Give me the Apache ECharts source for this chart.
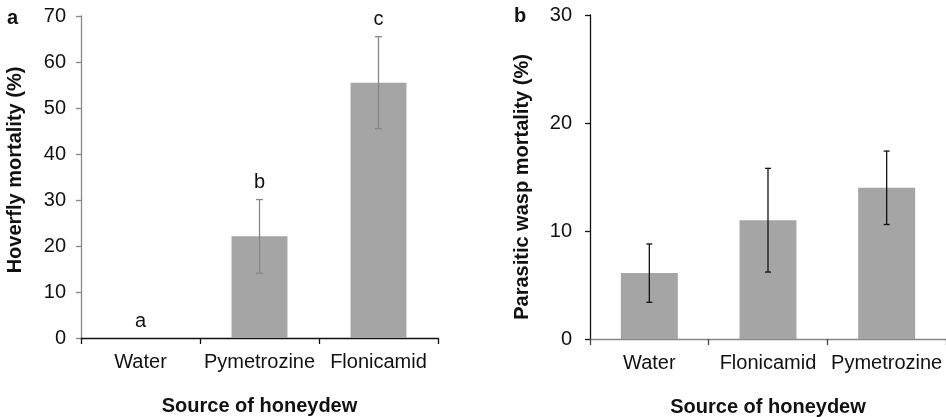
<!DOCTYPE html>
<html>
<head>
<meta charset="utf-8">
<style>
  html, body { margin: 0; padding: 0; background: #fff; }
  #chart { width: 946px; height: 417px; }
</style>
<script src="https://cdn.jsdelivr.net/npm/echarts@6/dist/echarts.min.js"></script>
</head>
<body>
<div id="chart"></div>
<script>
// Panel a: hoverfly mortality by honeydew source
const hoverflyCategories = ['Water', 'Pymetrozine', 'Flonicamid'];
const hoverflyMean = [0, 22.1, 55.5];
const hoverflyError = [0, 8.0, 10.0];
const hoverflyLetters = ['a', 'b', 'c'];
const hoverflyTicks = [0, 10, 20, 30, 40, 50, 60, 70];

// Panel b: parasitic wasp mortality by honeydew source
const waspCategories = ['Water', 'Flonicamid', 'Pymetrozine'];
const waspMean = [6.1, 11.0, 14.0];
const waspError = [2.7, 4.8, 3.4];
const waspTicks = [0, 10, 20, 30];

const FONT = "'Liberation Sans', Arial, sans-serif";
const BAR = '#a5a5a5';
const GREY = '#878787';

// Error bars (and optional significance letters) drawn through the axes
function errorBarSeries(xIdx, yIdx, means, errs, letters, color, capHalf) {
  return {
    type: 'custom',
    xAxisIndex: xIdx,
    yAxisIndex: yIdx,
    z: 5,
    data: means.map((m, i) => [i, m, errs[i]]),
    renderItem(params, api) {
      const i = api.value(0), m = api.value(1), e = api.value(2);
      const letter = letters ? letters[i] : '';
      const hi = api.coord([i, m + e]);
      const lo = api.coord([i, m - e]);
      const children = [];
      const st = { stroke: color, lineWidth: 1.3 };
      if (e > 0) {
        children.push(
          { type: 'line', shape: { x1: hi[0], y1: hi[1], x2: lo[0], y2: lo[1] }, style: st },
          { type: 'line', shape: { x1: hi[0] - capHalf, y1: hi[1], x2: hi[0] + capHalf, y2: hi[1] }, style: st },
          { type: 'line', shape: { x1: lo[0] - capHalf, y1: lo[1], x2: lo[0] + capHalf, y2: lo[1] }, style: st }
        );
      }
      if (letter) {
        children.push({
          type: 'text',
          x: hi[0], y: hi[1] - 17,
          style: { text: letter, fill: '#111', font: '20px ' + FONT, align: 'center', verticalAlign: 'middle' }
        });
      }
      return { type: 'group', children };
    }
  };
}

function catAxis(gridIndex, cats, lineColor, tickColor) {
  return {
    type: 'category',
    gridIndex,
    data: cats,
    name: 'Source of honeydew',
    nameLocation: 'middle',
    nameGap: 58,
    nameTextStyle: { fontFamily: FONT, fontSize: 20, fontWeight: 'bold', color: '#111' },
    axisLine: { show: true, lineStyle: { color: lineColor, width: 1.3 } },
    axisTick: { show: true, length: 6, interval: 0, lineStyle: { color: tickColor, width: 1.3 } },
    axisLabel: { fontFamily: FONT, fontSize: 20, color: '#111', margin: 14, interval: 0, hideOverlap: false },
    splitLine: { show: false }
  };
}

function valAxis(gridIndex, ticks, name, lineColor, margin, gap, pad) {
  return {
    type: 'value',
    gridIndex,
    min: ticks[0],
    max: ticks[ticks.length - 1],
    interval: ticks[1] - ticks[0],
    name,
    nameLocation: 'middle',
    nameGap: gap,
    nameRotate: 90,
    nameTextStyle: { fontFamily: FONT, fontSize: 20, fontWeight: 'bold', color: '#111', padding: pad },
    axisLine: { show: true, lineStyle: { color: lineColor, width: 1.3 } },
    axisTick: { show: true, length: 5, lineStyle: { color: lineColor, width: 1.3 } },
    axisLabel: { fontFamily: FONT, fontSize: 20, color: '#111', margin },
    splitLine: { show: false }
  };
}

const chart = echarts.init(document.getElementById('chart'), null, { renderer: 'canvas' });
chart.setOption({
  animation: false,
  backgroundColor: '#fff',
  grid: [
    { left: 81, right: 508, top: 16, bottom: 79, outerBoundsMode: 'none' },
    { left: 590, right: 0, top: 15, bottom: 78, outerBoundsMode: 'none' }
  ],
  xAxis: [
    catAxis(0, hoverflyCategories, '#111', '#111'),
    catAxis(1, waspCategories, GREY, '#444')
  ],
  yAxis: [
    valAxis(0, hoverflyTicks, 'Hoverfly mortality (%)', GREY, 15, 56, [0, 0, 0, 14]),
    valAxis(1, waspTicks, 'Parasitic wasp mortality (%)', '#111', 18, 58, [0, 20, 0, 0])
  ],
  graphic: [
    { type: 'text', left: 7, top: 8, style: { text: 'a', font: 'bold 20px ' + FONT, fill: '#111' } },
    { type: 'text', left: 514, top: 6, style: { text: 'b', font: 'bold 20px ' + FONT, fill: '#111' } }
  ],
  series: [
    { type: 'bar', xAxisIndex: 0, yAxisIndex: 0, data: hoverflyMean, barWidth: '47%', itemStyle: { color: BAR } },
    errorBarSeries(0, 0, hoverflyMean, hoverflyError, hoverflyLetters, GREY, 3.5),
    { type: 'bar', xAxisIndex: 1, yAxisIndex: 1, data: waspMean, barWidth: '48%', itemStyle: { color: BAR } },
    errorBarSeries(1, 1, waspMean, waspError, null, '#111', 3)
  ]
});
</script>
</body>
</html>
